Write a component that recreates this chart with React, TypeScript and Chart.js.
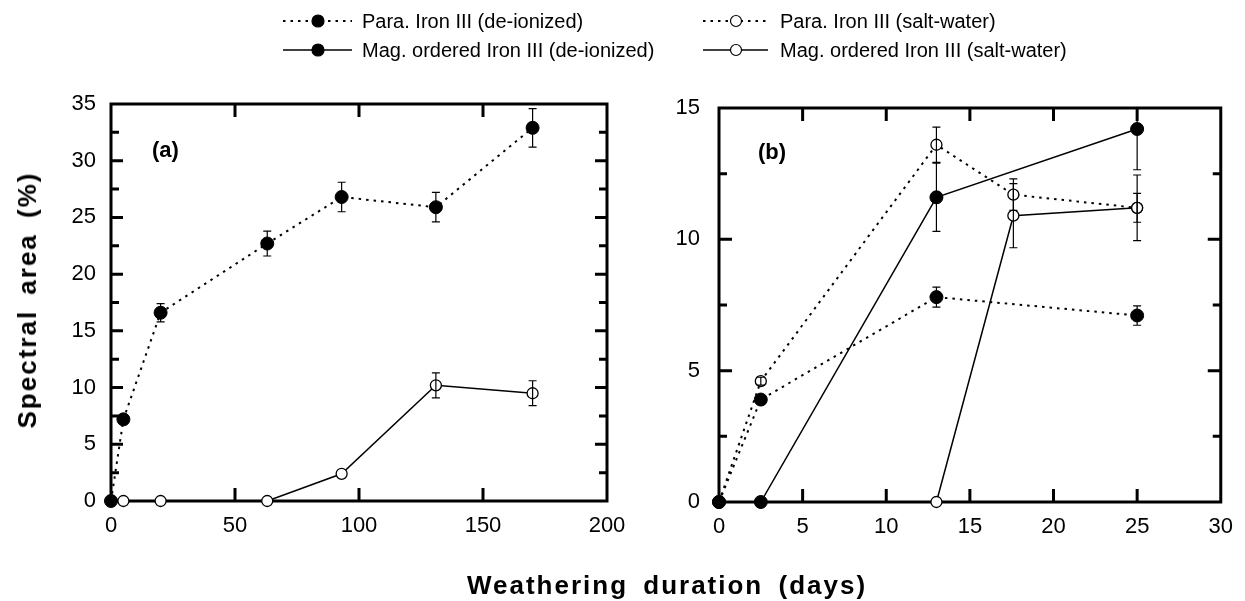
import React, { useEffect, useRef } from "react";
import { Chart, registerables } from "chart.js";

Chart.register(...registerables);

const W = 1245;
const H = 601;
const FONT = '"Liberation Sans", Arial, Helvetica, sans-serif';

// ---------- Panel (a) data ----------
const aDays = [0, 5, 20, 63, 93, 131, 170];
const aParaDeionized = [0, 7.2, 16.6, 22.7, 26.8, 25.9, 32.9];
const aParaDeionizedErr = [0, 0.3, 0.8, 1.1, 1.3, 1.3, 1.7];
const aMagSaltDays = [5, 20, 63, 93, 131, 170];
const aMagSalt = [0, 0, 0, 2.4, 10.2, 9.5];
const aMagSaltErr = [0, 0, 0, 0, 1.1, 1.1];

// ---------- Panel (b) data ----------
const bParaDeDays = [0, 2.5, 13, 25];
const bParaDe = [0, 3.9, 7.8, 7.1];
const bParaDeErr = [0, 0.15, 0.38, 0.37];
const bParaSaltDays = [0, 2.5, 13, 17.6, 25];
const bParaSalt = [0, 4.6, 13.6, 11.7, 11.2];
const bParaSaltErr = [0, 0.15, 0.67, 0.6, 0.55];
const bMagDeDays = [0, 2.5, 13, 25];
const bMagDe = [0, 0, 11.6, 14.2];
const bMagDeErr = [0, 0, 1.3, 1.55];
const bMagSaltDays = [13, 17.6, 25];
const bMagSalt = [0, 10.9, 11.2];
const bMagSaltErr = [0, 1.22, 1.25];

// ---------- tick marks ----------
const aXMarks = [50, 100, 150];
const aYMajor = [5, 10, 15, 20, 25, 30];
const aYMinor = [2.5, 7.5, 12.5, 17.5, 22.5, 27.5, 32.5];
const bXMarks = [5, 10, 15, 20, 25];
const bYMajor = [5, 10];
const bYMinor = [2.5, 7.5, 12.5];

// ---------- legend ----------
const legendLabels = [
  "Para. Iron III (de-ionized)",
  "Para. Iron III (salt-water)",
  "Mag. ordered Iron III (de-ionized)",
  "Mag. ordered Iron III (salt-water)",
];
const legendFilled = [true, false, true, false];
const legendDotted = [true, true, false, false];

const LEG_COL_LINE = [[283, 352, 318], [703, 768, 736]];
const LEG_COL_TEXT = [362, 780];
const LEG_ROW_Y = [21, 50];

const DOT = [2.5, 5];

function pts(xs: number[], ys: number[]) {
  return xs.map((x, i) => ({ x, y: ys[i] }));
}

function series(xs: number[], ys: number[], errs: number[], filled: boolean, dotted: boolean, radius: number) {
  return {
    data: pts(xs, ys),
    errors: errs,
    showLine: true,
    borderColor: "#000",
    borderWidth: dotted ? 2 : 1.5,
    borderDash: dotted ? DOT : [],
    pointRadius: radius,
    pointBorderWidth: filled ? 1 : 1.3,
    pointBackgroundColor: filled ? "#000" : "#fff",
    pointBorderColor: "#000",
    tension: 0,
    clip: false,
  };
}

const framePlugin = {
  id: "frame",
  beforeDatasetsDraw(chart: any, _a: any, opts: any) {
    const { ctx, chartArea: ca, scales } = chart;
    const xs = scales.x;
    const ys = scales.y;
    ctx.save();
    ctx.strokeStyle = "#000";
    ctx.lineWidth = 3;
    ctx.setLineDash([]);
    ctx.strokeRect(ca.left, ca.top, ca.right - ca.left, ca.bottom - ca.top);
    const xl = opts.xLen;
    for (const v of opts.xMarks) {
      const px = xs.getPixelForValue(v);
      ctx.beginPath();
      ctx.moveTo(px, ca.bottom);
      ctx.lineTo(px, ca.bottom - xl);
      ctx.moveTo(px, ca.top);
      ctx.lineTo(px, ca.top + xl);
      ctx.stroke();
    }
    const drawY = (vals: number[], len: number) => {
      for (const v of vals) {
        const py = ys.getPixelForValue(v);
        ctx.beginPath();
        ctx.moveTo(ca.left, py);
        ctx.lineTo(ca.left + len, py);
        ctx.moveTo(ca.right, py);
        ctx.lineTo(ca.right - len, py);
        ctx.stroke();
      }
    };
    drawY(opts.yMajor, opts.yMajorLen);
    drawY(opts.yMinor, opts.yMinorLen);
    ctx.restore();
  },
};

const errorBarPlugin = {
  id: "errorBars",
  afterDatasetsDraw(chart: any) {
    const { ctx, chartArea: ca, scales } = chart;
    const ys = scales.y;
    ctx.save();
    ctx.beginPath();
    ctx.rect(ca.left - 10, ca.top, ca.right - ca.left + 20, ca.bottom - ca.top);
    ctx.clip();
    ctx.strokeStyle = "#000";
    ctx.lineWidth = 1.2;
    ctx.setLineDash([]);
    chart.data.datasets.forEach((ds: any, di: number) => {
      const meta = chart.getDatasetMeta(di);
      (ds.errors || []).forEach((e: number, i: number) => {
        if (!e) return;
        const p = meta.data[i];
        const v = ds.data[i].y;
        const top = ys.getPixelForValue(v + e);
        const bot = ys.getPixelForValue(v - e);
        ctx.beginPath();
        ctx.moveTo(p.x, top);
        ctx.lineTo(p.x, bot);
        ctx.moveTo(p.x - 4, top);
        ctx.lineTo(p.x + 4, top);
        ctx.moveTo(p.x - 4, bot);
        ctx.lineTo(p.x + 4, bot);
        ctx.stroke();
      });
    });
    ctx.restore();
  },
};

const legendPlugin = {
  id: "legendSymbols",
  afterDraw(chart: any) {
    const { ctx } = chart;
    ctx.save();
    legendLabels.forEach((_l, i) => {
      const col = i % 2;
      const row = Math.floor(i / 2);
      const [x0, x1, mx] = LEG_COL_LINE[col];
      const y = LEG_ROW_Y[row];
      ctx.strokeStyle = "#000";
      ctx.lineWidth = legendDotted[i] ? 1.8 : 1.3;
      ctx.setLineDash(legendDotted[i] ? DOT : []);
      ctx.beginPath();
      ctx.moveTo(x0, y);
      ctx.lineTo(x1, y);
      ctx.stroke();
      ctx.setLineDash([]);
      ctx.beginPath();
      ctx.arc(mx, y, legendFilled[i] ? 6 : 5.5, 0, Math.PI * 2);
      ctx.fillStyle = legendFilled[i] ? "#000" : "#fff";
      ctx.fill();
      ctx.lineWidth = 1.2;
      ctx.stroke();
    });
    ctx.restore();
  },
};

function makeScales(xMin: number, xMax: number, xStep: number, yMin: number, yMax: number, yStep: number, yWidth: number, xHeight: number, yPad: number) {
  const tickFont = { family: FONT, size: 22 };
  return {
    x: {
      type: "linear",
      min: xMin,
      max: xMax,
      ticks: { stepSize: xStep, color: "#000", font: tickFont, padding: 12, maxRotation: 0 },
      grid: { display: false, drawTicks: false },
      border: { display: false },
      afterFit: (s: any) => {
        s.height = xHeight;
      },
    },
    y: {
      type: "linear",
      min: yMin,
      max: yMax,
      ticks: { stepSize: yStep, color: "#000", font: tickFont, padding: yPad },
      grid: { display: false, drawTicks: false },
      border: { display: false },
      afterFit: (s: any) => {
        s.width = yWidth;
      },
    },
  };
}

function ChartCanvas({ config }: { config: any }) {
  const ref = useRef<HTMLCanvasElement | null>(null);
  useEffect(() => {
    if (!ref.current) return;
    const chart = new Chart(ref.current, config);
    return () => chart.destroy();
  }, [config]);
  return (
    <canvas
      ref={ref}
      width={W}
      height={H}
      style={{ position: "absolute", left: 0, top: 0, width: W, height: H }}
    />
  );
}

const configA = {
  type: "scatter",
  data: {
    datasets: [
      series(aDays, aParaDeionized, aParaDeionizedErr, true, true, 6.5),
      series(aMagSaltDays, aMagSalt, aMagSaltErr, false, false, 5.5),
    ],
  },
  options: {
    responsive: false,
    animation: false,
    devicePixelRatio: 1,
    layout: { padding: { left: 0, top: 104, right: W - 607, bottom: 0 } },
    plugins: {
      legend: { display: false },
      tooltip: { enabled: false },
      frame: { xMarks: aXMarks, xLen: 13, yMajor: aYMajor, yMinor: aYMinor, yMajorLen: 12, yMinorLen: 8 },
    },
    scales: makeScales(0, 200, 50, 0, 35, 5, 111, H - 501, 15),
  },
  plugins: [framePlugin, errorBarPlugin, legendPlugin],
};

const configB = {
  type: "scatter",
  data: {
    datasets: [
      series(bParaDeDays, bParaDe, bParaDeErr, true, true, 6.5),
      series(bMagDeDays, bMagDe, bMagDeErr, true, false, 6.5),
      series(bParaSaltDays, bParaSalt, bParaSaltErr, false, true, 5.5),
      series(bMagSaltDays, bMagSalt, bMagSaltErr, false, false, 5.5),
    ],
  },
  options: {
    responsive: false,
    animation: false,
    devicePixelRatio: 1,
    layout: { padding: { left: 0, top: 108, right: W - 1223, bottom: 0 } },
    plugins: {
      legend: { display: false },
      tooltip: { enabled: false },
      frame: { xMarks: bXMarks, xLen: 13, yMajor: bYMajor, yMinor: bYMinor, yMajorLen: 13, yMinorLen: 8 },
    },
    scales: makeScales(0, 30, 5, 0, 15, 5, 719, H - 502, 19),
  },
  plugins: [framePlugin, errorBarPlugin],
};

const textBase: React.CSSProperties = {
  position: "absolute",
  fontFamily: FONT,
  color: "#000",
  whiteSpace: "nowrap",
  lineHeight: 1,
};

export default function App() {
  return (
    <div style={{ position: "absolute", left: 0, top: 0, width: W, height: H, background: "#fff", overflow: "hidden" }}>
      <ChartCanvas config={configA} />
      <ChartCanvas config={configB} />
      {legendLabels.map((l, i) => (
        <div
          key={l}
          style={{
            ...textBase,
            left: LEG_COL_TEXT[i % 2],
            top: LEG_ROW_Y[Math.floor(i / 2)],
            transform: "translateY(-50%)",
            fontSize: 20,
          }}
        >
          {l}
        </div>
      ))}
      <div style={{ ...textBase, left: 152, top: 150, transform: "translateY(-50%)", fontSize: 22, fontWeight: "bold" }}>(a)</div>
      <div style={{ ...textBase, left: 758, top: 152, transform: "translateY(-50%)", fontSize: 22, fontWeight: "bold" }}>(b)</div>
      <div
        style={{
          ...textBase,
          left: 27,
          top: 300,
          transform: "translate(-50%, -50%) rotate(-90deg)",
          fontSize: 26,
          fontWeight: "bold",
          letterSpacing: 2,
          wordSpacing: 6,
        }}
      >
        Spectral area (%)
      </div>
      <div
        style={{
          ...textBase,
          left: 667,
          top: 585,
          transform: "translate(-50%, -50%)",
          fontSize: 26,
          fontWeight: "bold",
          letterSpacing: 2,
          wordSpacing: 6,
        }}
      >
        Weathering duration (days)
      </div>
    </div>
  );
}
